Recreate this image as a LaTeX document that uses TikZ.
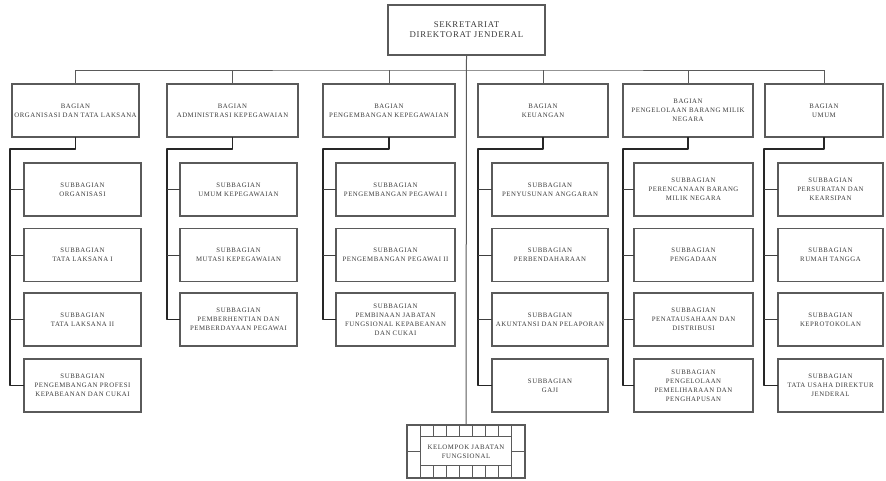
\documentclass[tikz,border=0pt]{standalone}
\usepackage{fontspec}
\setmainfont{Liberation Serif}
\newfontfamily\widefont[LetterSpace=8]{Liberation Serif}
\definecolor{boxgray}{HTML}{5A5A5A}
\definecolor{txtgray}{HTML}{3A3A3A}
\newcommand\boxfont{\widefont\fontsize{6.8}{9}\selectfont}
\newcommand\topfont{\widefont\fontsize{8.8}{10}\selectfont}
\begin{document}
\begin{tikzpicture}[x=1pt,y=-1pt,
  orgbox/.style={draw=boxgray, line width=1.3pt, align=center, font=\boxfont, text=txtgray, inner sep=1pt, outer sep=0pt},
  bagbox/.style={orgbox, minimum height=53pt},
  subbox/.style={orgbox, minimum height=53pt},
  topline/.style={draw=boxgray, line width=1pt},
  grpline/.style={draw=black!85, line width=1.8pt, line join=round},
  tick/.style={draw=black!75, line width=1pt}
]
\useasboundingbox (0,0) rectangle (886,480);
\fill[white] (0,0) rectangle (886,480);

% top
\node[orgbox, minimum width=157pt, minimum height=50pt, font=\topfont] (top) at (466.5,30) {SEKRETARIAT\\DIREKTORAT JENDERAL};

% bagian
\node[bagbox, minimum width=127pt] (b1) at (75.5,110.5) {BAGIAN\\ORGANISASI DAN TATA LAKSANA};
\node[bagbox, minimum width=131pt] (b2) at (232.5,110.5) {BAGIAN\\ADMINISTRASI KEPEGAWAIAN};
\node[bagbox, minimum width=132pt] (b3) at (389,110.5) {BAGIAN\\PENGEMBANGAN KEPEGAWAIAN};
\node[bagbox, minimum width=130pt] (b4) at (543,110.5) {BAGIAN\\KEUANGAN};
\node[bagbox, minimum width=130pt] (b5) at (688,110.5) {BAGIAN\\PENGELOLAAN BARANG MILIK\\NEGARA};
\node[bagbox, minimum width=118pt] (b6) at (824,110.5) {BAGIAN\\UMUM};

% group 1
\node[subbox, minimum width=117pt] (s11) at (82.5,189.5) {SUBBAGIAN\\ORGANISASI};
\node[subbox, minimum width=117pt] (s12) at (82.5,255) {SUBBAGIAN\\TATA LAKSANA I};
\node[subbox, minimum width=117pt] (s13) at (82.5,319.5) {SUBBAGIAN\\TATA LAKSANA II};
\node[subbox, minimum width=117pt] (s14) at (82.5,385.5) {SUBBAGIAN\\PENGEMBANGAN PROFESI\\KEPABEANAN DAN CUKAI};
% group 2
\node[subbox, minimum width=117pt] (s21) at (238.5,189.5) {SUBBAGIAN\\UMUM KEPEGAWAIAN};
\node[subbox, minimum width=117pt] (s22) at (238.5,255) {SUBBAGIAN\\MUTASI KEPEGAWAIAN};
\node[subbox, minimum width=117pt] (s23) at (238.5,319.5) {SUBBAGIAN\\PEMBERHENTIAN DAN\\PEMBERDAYAAN PEGAWAI};
% group 3
\node[subbox, minimum width=119pt] (s31) at (395.5,189.5) {SUBBAGIAN\\PENGEMBANGAN PEGAWAI I};
\node[subbox, minimum width=119pt] (s32) at (395.5,255) {SUBBAGIAN\\PENGEMBANGAN PEGAWAI II};
\node[subbox, minimum width=119pt] (s33) at (395.5,319.5) {SUBBAGIAN\\PEMBINAAN JABATAN\\FUNGSIONAL KEPABEANAN\\DAN CUKAI};
% group 4
\node[subbox, minimum width=116pt] (s41) at (550,189.5) {SUBBAGIAN\\PENYUSUNAN ANGGARAN};
\node[subbox, minimum width=116pt] (s42) at (550,255) {SUBBAGIAN\\PERBENDAHARAAN};
\node[subbox, minimum width=116pt] (s43) at (550,319.5) {SUBBAGIAN\\AKUNTANSI DAN PELAPORAN};
\node[subbox, minimum width=116pt] (s44) at (550,385.5) {SUBBAGIAN\\GAJI};
% group 5
\node[subbox, minimum width=119pt] (s51) at (693.5,189.5) {SUBBAGIAN\\PERENCANAAN BARANG\\MILIK NEGARA};
\node[subbox, minimum width=119pt] (s52) at (693.5,255) {SUBBAGIAN\\PENGADAAN};
\node[subbox, minimum width=119pt] (s53) at (693.5,319.5) {SUBBAGIAN\\PENATAUSAHAAN DAN\\DISTRIBUSI};
\node[subbox, minimum width=119pt] (s54) at (693.5,385.5) {SUBBAGIAN\\PENGELOLAAN\\PEMELIHARAAN DAN\\PENGHAPUSAN};
% group 6
\node[subbox, minimum width=105pt] (s61) at (830.5,189.5) {SUBBAGIAN\\PERSURATAN DAN\\KEARSIPAN};
\node[subbox, minimum width=105pt] (s62) at (830.5,255) {SUBBAGIAN\\RUMAH TANGGA};
\node[subbox, minimum width=105pt] (s63) at (830.5,319.5) {SUBBAGIAN\\KEPROTOKOLAN};
\node[subbox, minimum width=105pt] (s64) at (830.5,385.5) {SUBBAGIAN\\TATA USAHA DIREKTUR\\JENDERAL};

% bottom: kelompok jabatan fungsional
\node[draw=boxgray, line width=1.2pt, minimum width=118pt, minimum height=53pt, inner sep=0pt, outer sep=0pt,
      align=center, font=\boxfont, text=txtgray] (kjf) at (466,451.5) {KELOMPOK JABATAN\\FUNGSIONAL};
\draw[draw=boxgray, line width=1pt] ([xshift=13.1pt,yshift=-11.7pt]kjf.north west) rectangle ([xshift=-13.1pt,yshift=13pt]kjf.south east);
\foreach \i in {1,...,8}{
  \draw[draw=boxgray, line width=1pt] ([xshift=\i*13.11pt]kjf.north west) -- ++(0,11.7);
  \draw[draw=boxgray, line width=1pt] ([xshift=\i*13.11pt]kjf.south west) -- ++(0,-13);
}
\draw[draw=boxgray, line width=1pt] ([yshift=-26.5pt]kjf.north west) -- ++(13.1,0);
\draw[draw=boxgray, line width=1pt] ([yshift=-26.5pt]kjf.north east) -- ++(-13.1,0);

% top connectors
\coordinate (hl) at (466,70);
\draw[topline] (top.south) -- (kjf.north);
\draw[topline] (b1.north) |- (hl) -| (b6.north);
\foreach \b in {b2,b3,b4,b5}{\draw[topline] (\b.north) -- (\b.north |- hl);}

% group connectors
\coordinate (g1) at (10,149);
\coordinate (g2) at (167,149);
\coordinate (g3) at (323,149);
\coordinate (g4) at (478,149);
\coordinate (g5) at (623,149);
\coordinate (g6) at (764,149);
\draw[grpline] (b1.south) |- (g1) |- (s14.west);
\draw[grpline] (b2.south) |- (g2) |- (s23.west);
\draw[grpline] (b3.south) |- (g3) |- (s33.west);
\draw[grpline] (b4.south) |- (g4) |- (s44.west);
\draw[grpline] (b5.south) |- (g5) |- (s54.west);
\draw[grpline] (b6.south) |- (g6) |- (s64.west);
\foreach \g/\s in {g1/s11,g1/s12,g1/s13,g2/s21,g2/s22,g3/s31,g3/s32,g4/s41,g4/s42,g4/s43,g5/s51,g5/s52,g5/s53,g6/s61,g6/s62,g6/s63}{
  \draw[tick] (\g |- \s.west) -- (\s.west);
}
\end{tikzpicture}
\end{document}
